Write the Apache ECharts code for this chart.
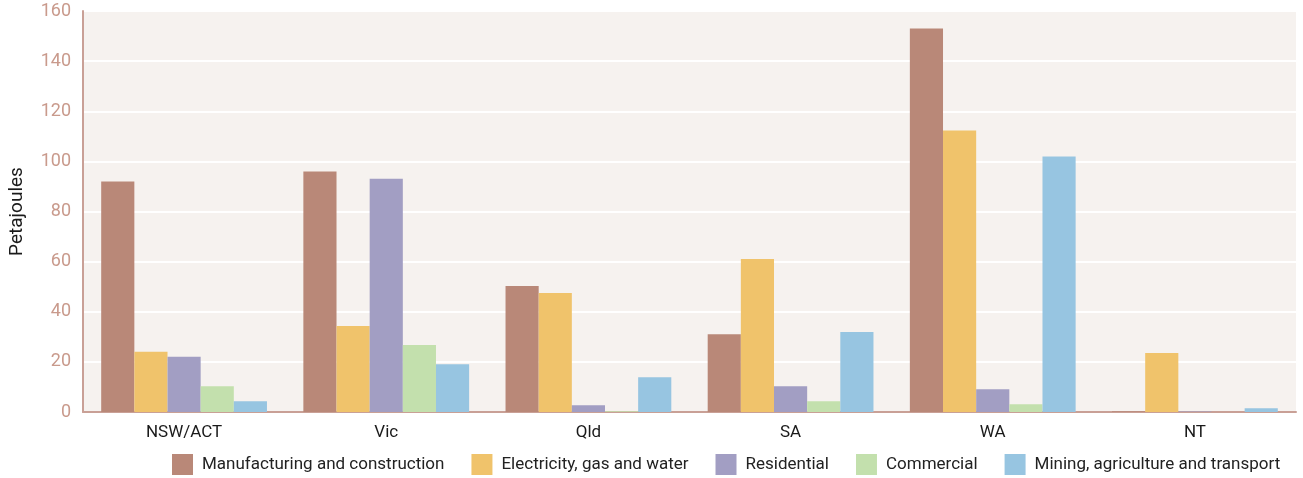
<!DOCTYPE html>
<html>
<head>
<meta charset="utf-8">
<script src="https://cdn.jsdelivr.net/npm/echarts@6/dist/echarts.min.js"></script>
<style>
  html, body { margin: 0; padding: 0; background: #ffffff; }
  #chart { width: 1303px; height: 478px; }
</style>
</head>
<body>
<div id="chart"></div>
<script>
// Energy use by state and sector (petajoules)
const states = ['NSW/ACT', 'Vic', 'Qld', 'SA', 'WA', 'NT'];
const manufacturing = [92, 96, 50.3, 31, 153, 0.3];
const electricity = [24, 34.3, 47.5, 61, 112.3, 23.5];
const residential = [22, 93.1, 2.7, 10.3, 9.1, 0.2];
const commercial = [10.3, 26.7, 0.3, 4.3, 3.1, 0];
const mining = [4.3, 19.1, 13.9, 31.9, 101.9, 1.5];
const yTicks = [0, 20, 40, 60, 80, 100, 120, 140, 160];

const sectors = [
  { name: 'Manufacturing and construction', data: manufacturing, color: '#b98878' },
  { name: 'Electricity, gas and water', data: electricity, color: '#f0c36b' },
  { name: 'Residential', data: residential, color: '#a29ec3' },
  { name: 'Commercial', data: commercial, color: '#c3e0ad' },
  { name: 'Mining, agriculture and transport', data: mining, color: '#97c5e1' }
];

const font = 'Roboto, "DejaVu Sans", sans-serif';
const chart = echarts.init(document.getElementById('chart'));
chart.setOption({
  animation: false,
  grid: {
    left: 83, right: 7, top: 11, bottom: 66,
    show: true, backgroundColor: '#f6f2ef', borderWidth: 0
  },
  legend: {
    left: 167, top: 449,
    itemWidth: 21, itemHeight: 21, itemGap: 27,
    icon: 'rect',
    textStyle: { fontFamily: font, fontSize: 17, color: '#222', padding: [0, 0, 0, 4] },
    data: sectors.map(s => s.name)
  },
  xAxis: {
    type: 'category',
    data: states,
    axisLine: { lineStyle: { color: '#c9a096', width: 2 } },
    axisTick: { show: false },
    axisLabel: { fontFamily: font, fontSize: 17, color: '#1a1a1a', margin: 12 }
  },
  yAxis: {
    type: 'value',
    min: yTicks[0], max: yTicks[yTicks.length - 1], interval: 20,
    name: 'Petajoules',
    nameLocation: 'middle',
    nameGap: 56,
    nameRotate: 90,
    nameTextStyle: { fontFamily: font, fontSize: 19, color: '#1a1a1a' },
    axisLine: { show: true, lineStyle: { color: '#c9a096', width: 2 } },
    axisTick: { show: false },
    splitLine: { lineStyle: { color: '#ffffff', width: 2 } },
    axisLabel: { fontFamily: font, fontSize: 18, color: '#c99a8c', margin: 12 }
  },
  series: sectors.map(s => ({
    name: s.name,
    type: 'bar',
    data: s.data,
    barGap: '0%',
    barCategoryGap: '18%',
    itemStyle: { color: s.color }
  }))
});
</script>
</body>
</html>
